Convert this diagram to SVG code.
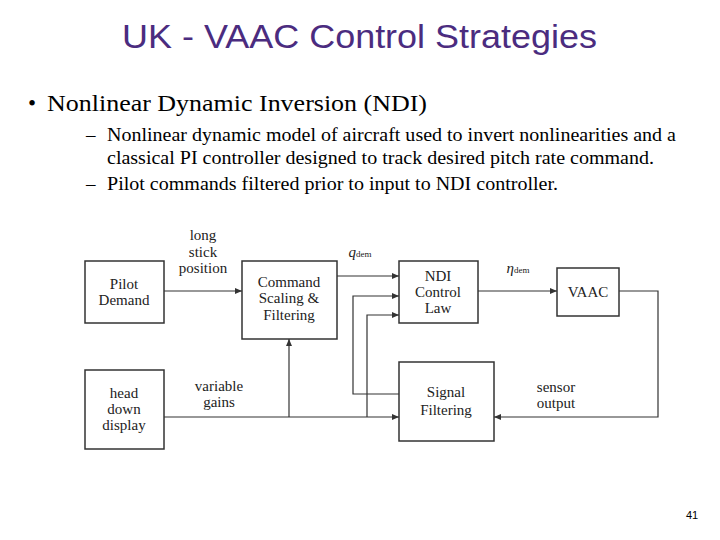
<svg xmlns="http://www.w3.org/2000/svg" width="720" height="540" viewBox="0 0 720 540">
<defs>
<style>
.b{fill:#fff;stroke:#333;stroke-width:1.5}
.t{font-family:"Liberation Serif",serif;font-size:15px;fill:#222;text-anchor:middle}
.l{fill:none;stroke:#333;stroke-width:1.2}
.s{font-family:"Liberation Serif",serif;fill:#000}
</style>
<marker id="a" markerWidth="7" markerHeight="6" refX="7" refY="3" orient="auto" markerUnits="userSpaceOnUse"><path d="M0,0L7,3L0,6z" fill="#333"/></marker>
</defs>
<rect width="720" height="540" fill="#fff"/>
<text x="122" y="48" font-family="Liberation Sans,sans-serif" font-size="33" fill="#4B2C7F" textLength="475" lengthAdjust="spacingAndGlyphs">UK - VAAC Control Strategies</text>
<text class="s" x="28" y="111" font-size="23">•</text>
<text class="s" x="47" y="111" font-size="23" textLength="380" lengthAdjust="spacingAndGlyphs">Nonlinear Dynamic Inversion (NDI)</text>
<text class="s" x="86" y="141" font-size="19">–</text>
<text class="s" x="107" y="141" font-size="19" textLength="569" lengthAdjust="spacingAndGlyphs">Nonlinear dynamic model of aircraft used to invert nonlinearities and a</text>
<text class="s" x="107" y="164" font-size="19" textLength="547" lengthAdjust="spacingAndGlyphs">classical PI controller designed to track desired pitch rate command.</text>
<text class="s" x="86" y="190" font-size="19">–</text>
<text class="s" x="107" y="190" font-size="19" textLength="451" lengthAdjust="spacingAndGlyphs">Pilot commands filtered prior to input to NDI controller.</text>
<text x="692" y="519" font-family="Liberation Sans,sans-serif" font-size="11" text-anchor="middle">41</text>
<g id="connectors">
<path class="l" d="M164,291H242" marker-end="url(#a)"/>
<path class="l" d="M337,276H399" marker-end="url(#a)"/>
<path class="l" d="M399,394H353V296H399" marker-end="url(#a)"/>
<path class="l" d="M367,417V315H399" marker-end="url(#a)" stroke="#999"/>
<path class="l" d="M164,417H399" marker-end="url(#a)"/>
<path class="l" d="M289,417V339" marker-end="url(#a)"/>
<path class="l" d="M478,291H557" marker-end="url(#a)"/>
<path class="l" d="M619,291H658V417H494" marker-end="url(#a)"/>
<text class="t" x="203" y="240">long</text>
<text class="t" x="203" y="257">stick</text>
<text class="t" x="203" y="273">position</text>
<text class="t" x="219" y="391">variable</text>
<text class="t" x="219" y="407">gains</text>
<text class="t" x="556" y="392">sensor</text>
<text class="t" x="556" y="408">output</text>
<text class="t" x="360" y="257" font-style="italic">q<tspan font-size="9" font-style="normal">dem</tspan></text>
<text class="t" x="518" y="273" font-style="italic">η<tspan font-size="9" font-style="normal">dem</tspan></text>
</g>
<g id="pilot"><rect class="b" x="85" y="261" width="79" height="62"/><text class="t" x="124" y="289">Pilot</text><text class="t" x="124" y="305">Demand</text></g>
<g id="command"><rect class="b" x="242" y="261" width="95" height="78"/><text class="t" x="289" y="287">Command</text><text class="t" x="289" y="303">Scaling &amp;</text><text class="t" x="289" y="320">Filtering</text></g>
<g id="hdd"><rect class="b" x="85" y="370" width="79" height="79"/><text class="t" x="124" y="398">head</text><text class="t" x="124" y="414">down</text><text class="t" x="124" y="430">display</text></g>
<g id="ndi"><rect class="b" x="399" y="261" width="79" height="62"/><text class="t" x="438" y="281">NDI</text><text class="t" x="438" y="297">Control</text><text class="t" x="438" y="313">Law</text></g>
<g id="vaac"><rect class="b" x="557" y="268" width="62" height="48"/><text class="t" x="588" y="297">VAAC</text></g>
<g id="signal"><rect class="b" x="399" y="362" width="95" height="79"/><text class="t" x="446" y="397">Signal</text><text class="t" x="446" y="415">Filtering</text></g>
</svg>
